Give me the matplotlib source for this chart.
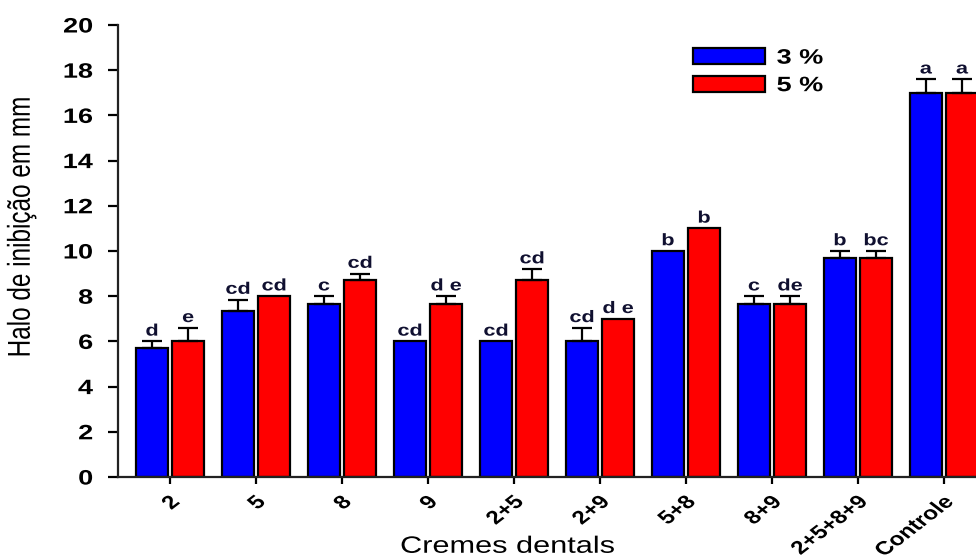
import numpy as np
import matplotlib
matplotlib.use("Agg")
import matplotlib.pyplot as plt
from matplotlib.patheffects import AbstractPathEffect
from matplotlib.transforms import Affine2D

plt.rcParams['font.family'] = ['Liberation Sans', 'DejaVu Sans']

categories = ["2", "5", "8", "9", "2+5", "2+9", "5+8", "8+9", "2+5+8+9", "Controle"]
halo_3 = [5.7, 7.35, 7.65, 6.0, 6.0, 6.0, 10.0, 7.65, 9.7, 17.0]
halo_5 = [6.0, 8.0, 8.7, 7.65, 8.7, 7.0, 11.0, 7.65, 9.7, 17.0]
err_3 = [0.3, 0.5, 0.35, 0.0, 0.0, 0.6, 0.0, 0.35, 0.3, 0.6]
err_5 = [0.6, 0.0, 0.3, 0.35, 0.5, 0.0, 0.0, 0.35, 0.3, 0.6]
letters_3 = ["d", "cd", "c", "cd", "cd", "cd", "b", "c", "b", "a"]
letters_5 = ["e", "cd", "cd", "d e", "cd", "d e", "b", "de", "bc", "a"]
series_labels = ["3 %", "5 %"]


class WideText(AbstractPathEffect):
    """Stretch rendered text horizontally (in screen space) about a pivot."""

    def __init__(self, sx=1.3, pivot="center"):
        super().__init__()
        self.sx = sx
        self.pivot = pivot

    def draw_path(self, renderer, gc, tpath, affine, rgbFace=None):
        if len(tpath.vertices) == 0:
            return
        ext = tpath.get_extents()
        lx = {"left": ext.x0, "center": 0.5 * (ext.x0 + ext.x1),
              "right": ext.x1}[self.pivot]
        ly = 0.5 * (ext.y0 + ext.y1)
        px, py = affine.transform((lx, ly))
        t = affine + Affine2D().translate(-px, -py).scale(self.sx, 1.0).translate(px, py)
        renderer.draw_path(gc, tpath, t, rgbFace)


SX = 1.3

fig = plt.figure(figsize=(9.76, 5.6), dpi=100)
ax = fig.add_axes([118 / 976, 83 / 560, 877.6 / 976, 452 / 560])

x = np.arange(len(categories))
w = 0.37
off = 0.21

ax.bar(x - off, halo_3, w, color="#0000ff", edgecolor="black", linewidth=1.6,
       label=series_labels[0], zorder=2)
ax.bar(x + off, halo_5, w, color="#ff0000", edgecolor="black", linewidth=1.6,
       label=series_labels[1], zorder=2)

for xs, vals, errs, labs in [(x - off, halo_3, err_3, letters_3),
                             (x + off, halo_5, err_5, letters_5)]:
    for xi, v, e, lab in zip(xs, vals, errs, labs):
        if e > 0:
            ax.errorbar(xi, v, yerr=[[0], [e]], fmt="none", ecolor="black",
                        elinewidth=1.6, capsize=7, capthick=1.6, zorder=3)
        t = ax.annotate(lab, (xi, v + e), xytext=(0, 2), textcoords="offset points",
                        ha="center", va="bottom", fontsize=12, fontweight="bold",
                        color="#101030")
        t.set_path_effects([WideText(SX, "center")])

ax.set_xlim(-0.605, 9.6)
ax.set_ylim(0, 20)
ax.set_yticks(np.arange(0, 21, 2))
ax.set_xticks(x)
ax.set_xticklabels(categories, rotation=45, ha="right", rotation_mode="anchor",
                   fontsize=13.5, fontweight="bold")
for t in ax.get_xticklabels():
    t.set_path_effects([WideText(SX, "right")])
for t in ax.get_yticklabels():
    t.set_fontweight("bold")
    t.set_fontsize(15)
    t.set_path_effects([WideText(SX, "right")])

ax.spines["top"].set_visible(False)
ax.spines["right"].set_visible(False)
for s in ("left", "bottom"):
    ax.spines[s].set_linewidth(1.6)
    ax.spines[s].set_color("#222222")
ax.tick_params(axis="y", direction="out", length=7, width=1.6, pad=11)
ax.tick_params(axis="x", direction="out", length=5, width=1.6, pad=7)

ylab = ax.set_ylabel("Halo de inibição em mm", fontsize=17.5)
ylab.set_path_effects([WideText(SX, "center")])
ax.yaxis.set_label_coords(-0.097, 0.552)

xlab = ax.set_xlabel("Cremes dentals", fontsize=17)
xlab.set_path_effects([WideText(SX, "center")])
ax.xaxis.set_label_coords(0.444, -0.13)

leg = ax.legend(loc="upper left", bbox_to_anchor=(683 / 976, 1 - 38 / 560),
                bbox_transform=fig.transFigure, frameon=False,
                prop={"weight": "bold", "size": 15}, handlelength=3.45,
                handleheight=0.8, handletextpad=0.55, labelspacing=0.4,
                borderpad=0)
for t in leg.get_texts():
    t.set_path_effects([WideText(SX, "left")])

fig.savefig("out.png", dpi=100)
